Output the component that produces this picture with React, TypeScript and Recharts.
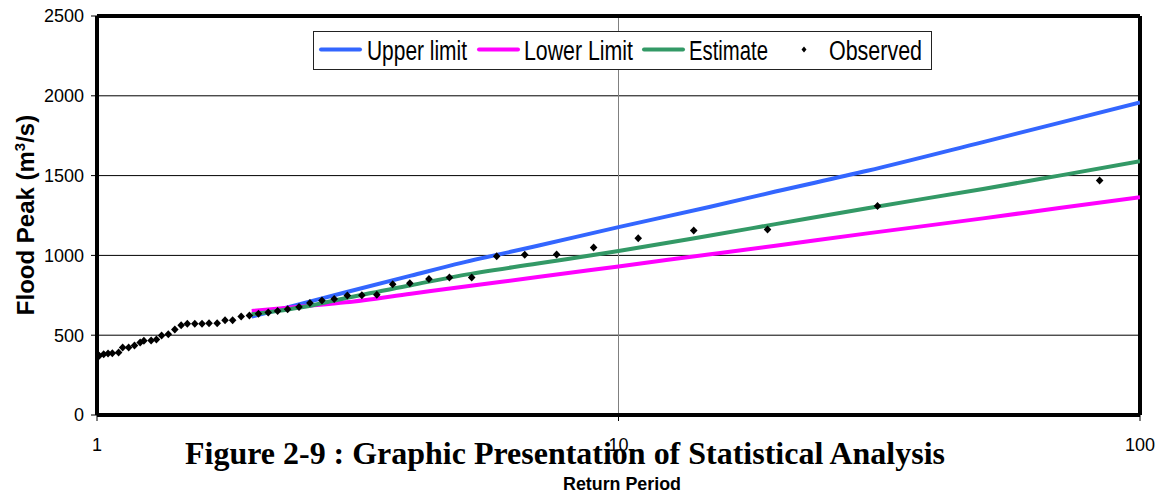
import React from 'react';
import {
  ComposedChart,
  Line,
  Scatter,
  XAxis,
  YAxis,
  CartesianGrid,
  Legend,
  ReferenceLine,
} from 'recharts';

// observed annual peaks, ranked, with their plotting-position return periods
const returnPeriodObs = [
  83.67, 31.38, 19.31, 13.94, 10.91, 8.96, 7.61, 6.61, 5.84, 5.23,
  4.74, 4.33, 3.98, 3.69, 3.44, 3.22, 3.02, 2.85, 2.7, 2.56,
  2.44, 2.32, 2.22, 2.13, 2.04, 1.96, 1.89, 1.82, 1.76, 1.7,
  1.64, 1.59, 1.54, 1.49, 1.45, 1.41, 1.37, 1.33, 1.3, 1.27,
  1.23, 1.21, 1.18, 1.15, 1.12, 1.1, 1.07, 1.05, 1.03, 1.01,
];
const peakObs = [
  1469, 1310, 1162, 1156, 1108, 1050, 1006, 1004, 994, 862,
  862, 852, 826, 819, 754, 750, 749, 727, 718, 702,
  677, 663, 651, 643, 635, 624, 617, 594, 594, 575,
  575, 571, 571, 571, 562, 535, 506, 498, 473, 467,
  465, 454, 435, 423, 423, 392, 387, 385, 381, 371,
];

// fitted curve and confidence limits
const returnPeriodCurve = [1.98, 2.5, 3, 4, 5, 7, 10, 15, 20, 30, 50, 70, 100];
const upperLimit = [616, 702, 769, 873, 953, 1060, 1177, 1305, 1400, 1530, 1710, 1830, 1958];
const lowerLimit = [652, 682, 706, 760, 802, 864, 931, 1007, 1061, 1138, 1232, 1297, 1364];
const estimate = [631, 678, 733, 813, 875, 949, 1027, 1125, 1196, 1296, 1416, 1500, 1590];

const yTicks = [0, 500, 1000, 1500, 2000, 2500];
const xTicks = [1, 10, 100];

const toPoints = (xs: number[], ys: number[]) => xs.map((t, i) => ({ t, q: ys[i] }));

const upperData = toPoints(returnPeriodCurve, upperLimit);
const lowerData = toPoints(returnPeriodCurve, lowerLimit);
const estimateData = toPoints(returnPeriodCurve, estimate);
const observedData = toPoints(returnPeriodObs, peakObs).reverse();

const FONT = '"Liberation Sans", Arial, sans-serif';

const Diamond = (props: any) => {
  const { cx, cy } = props;
  if (cx == null || cy == null) return null;
  return <path d={`M${cx},${cy - 4}L${cx + 3.8},${cy}L${cx},${cy + 4}L${cx - 3.8},${cy}Z`} fill="#000" />;
};

const legendItems = [
  { name: 'Upper limit', color: '#3366FF', lineX: 6, textX: 54, textLen: 100 },
  { name: 'Lower Limit', color: '#FF00FF', lineX: 164, textX: 211, textLen: 109 },
  { name: 'Estimate', color: '#339966', lineX: 329, textX: 376, textLen: 79 },
  { name: 'Observed', color: '#000', lineX: -1, textX: 516, textLen: 93 },
];

const LegendBox = () => (
  <svg width={620} height={40} style={{ display: 'block', overflow: 'visible' }}>
    <rect x={0.5} y={0.5} width={618} height={38} fill="#fff" stroke="#222" strokeWidth={1} />
    {legendItems.map((it) => (
      <g key={it.name}>
        {it.lineX >= 0 ? (
          <line x1={it.lineX + 2} y1={18.5} x2={it.lineX + 41} y2={18.5} stroke={it.color} strokeWidth={4} strokeLinecap="round" />
        ) : (
          <path d="M491,15.5L493.5,18.5L491,21.5L488.5,18.5Z" fill="#000" />
        )}
        <text
          x={it.textX}
          y={28.5}
          fontFamily={FONT}
          fontSize={27}
          fill="#000"
          textLength={it.textLen}
          lengthAdjust="spacingAndGlyphs"
        >
          {it.name}
        </text>
      </g>
    ))}
  </svg>
);

const YLabel = () => (
  <text
    x={34}
    y={215}
    transform="rotate(-90, 34, 215)"
    textAnchor="middle"
    fontFamily={FONT}
    fontWeight="bold"
    fontSize={24}
    fill="#000"
  >
    <tspan>Flood Peak (m</tspan>
    <tspan fontSize={15} dy={-9}>3</tspan>
    <tspan dy={9}>/s)</tspan>
  </text>
);

const XLabel = () => (
  <g>
    <text
      x={185}
      y={464}
      fontFamily='"Liberation Serif", "Times New Roman", serif'
      fontWeight="bold"
      fontSize={31}
      fill="#000"
      textLength={760}
      lengthAdjust="spacingAndGlyphs"
    >
      Figure 2-9 : Graphic Presentation of Statistical Analysis
    </text>
    <text
      x={563}
      y={490}
      fontFamily={FONT}
      fontWeight="bold"
      fontSize={19}
      fill="#000"
      textLength={118}
      lengthAdjust="spacingAndGlyphs"
    >
      Return Period
    </text>
  </g>
);

const tickStyle = { fill: '#000', fontSize: 18, fontFamily: FONT };

export default function App() {
  return (
    <div style={{ position: 'absolute', left: 0, top: 0, background: '#fff' }}>
      <ComposedChart width={1163} height={498} margin={{ top: 16, right: 23, bottom: 0, left: 0 }}>
        <CartesianGrid horizontal vertical={false} stroke="#000" strokeWidth={1} />
        <CartesianGrid horizontal={false} vertical stroke="#808080" strokeWidth={1} />
        <XAxis
          dataKey="t"
          type="number"
          scale="log"
          domain={[1, 100]}
          ticks={xTicks}
          allowDataOverflow
          height={83}
          axisLine={{ stroke: '#000', strokeWidth: 4 }}
          tickLine={{ stroke: '#000', strokeWidth: 1 }}
          tickSize={6}
          tickMargin={17}
          tick={tickStyle}
          label={{ content: () => <XLabel /> }}
        />
        <YAxis
          dataKey="q"
          type="number"
          domain={[0, 2500]}
          ticks={yTicks}
          width={97}
          axisLine={{ stroke: '#000', strokeWidth: 4 }}
          tickLine={{ stroke: '#000', strokeWidth: 1 }}
          tickSize={6}
          tickMargin={7}
          tick={tickStyle}
          label={{ content: () => <YLabel /> }}
        />
        <ReferenceLine y={2500} stroke="#000" strokeWidth={4} />
        <ReferenceLine x={100} stroke="#000" strokeWidth={4} />
        <Legend
          layout="horizontal"
          verticalAlign="middle"
          align="center"
          content={() => <LegendBox />}
          wrapperStyle={{ left: 313, top: 31, width: 620, height: 40 }}
        />
        <Line data={upperData} dataKey="q" name="Upper limit" type="monotone" stroke="#3366FF" strokeWidth={4} dot={false} isAnimationActive={false} />
        <Line data={lowerData} dataKey="q" name="Lower Limit" type="monotone" stroke="#FF00FF" strokeWidth={4} dot={false} isAnimationActive={false} />
        <Line data={estimateData} dataKey="q" name="Estimate" type="monotone" stroke="#339966" strokeWidth={4} dot={false} isAnimationActive={false} />
        <Scatter data={observedData} dataKey="q" name="Observed" shape={<Diamond />} isAnimationActive={false} />
      </ComposedChart>
    </div>
  );
}
